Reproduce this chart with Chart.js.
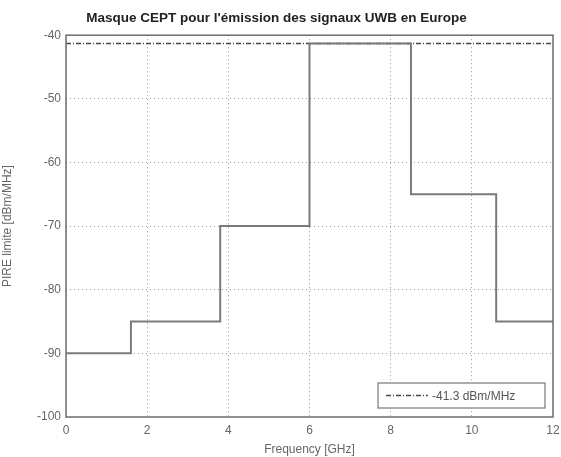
<!DOCTYPE html>
<html>
<head>
<meta charset="utf-8">
<script src="https://cdn.jsdelivr.net/npm/chart.js@4.4.1/dist/chart.umd.min.js"></script>
<style>
  html, body { margin: 0; padding: 0; background: #fff; }
  #wrap { width: 561px; height: 457px; }
</style>
</head>
<body>
<div id="wrap"><canvas id="myChart" width="561" height="457"></canvas></div>
<script>
// breakpoints of the CEPT mask (GHz) and the level that starts at each one
var freqs = [0, 1.6, 3.8, 6, 8.5, 10.6, 12];
var levels = [-90, -85, -70, -41.3, -65, -85, -85];
// reference level shown in the legend
var refLevel = -41.3;
var refLabel = '-41.3 dBm/MHz';
var xTicks = [0, 2, 4, 6, 8, 10, 12];
var yTicks = [-100, -90, -80, -70, -60, -50, -40];

window.onload = function () {
    // with stepped 'before' each segment keeps the level of its left point
    var maskPoints = freqs.map(function (f, i) { return { x: f, y: levels[i] }; });
    var refPoints = [{ x: xTicks[0], y: refLevel }, { x: xTicks[xTicks.length - 1], y: refLevel }];

    // box around the plot and the legend inside the axes (matlab look)
    var boxPlugin = {
        id: 'box',
        afterDraw: function (chart) {
            var ctx = chart.ctx;
            var a = chart.chartArea;
            ctx.save();
            ctx.strokeStyle = '#6e6e6e';
            ctx.lineWidth = 1.5;
            ctx.setLineDash([]);
            ctx.strokeRect(a.left, a.top, a.right - a.left, a.bottom - a.top);

            // legend
            var w = 167, h = 25;
            var bx = a.right - 8 - w, by = a.bottom - 9 - h;
            ctx.fillStyle = '#fff';
            ctx.fillRect(bx, by, w, h);
            ctx.strokeStyle = '#777';
            ctx.lineWidth = 1.2;
            ctx.strokeRect(bx, by, w, h);
            ctx.strokeStyle = '#444';
            ctx.lineWidth = 1.5;
            ctx.setLineDash([5, 2, 1, 2]);
            ctx.beginPath();
            ctx.moveTo(bx + 8, by + h / 2);
            ctx.lineTo(bx + 50, by + h / 2);
            ctx.stroke();
            ctx.setLineDash([]);
            ctx.fillStyle = '#555';
            ctx.font = '12px "Liberation Sans", Arial, sans-serif';
            ctx.textBaseline = 'middle';
            ctx.fillText(refLabel, bx + 54, by + h / 2 + 1);
            ctx.restore();
        }
    };

    var ctx = document.getElementById('myChart').getContext('2d');
    var myChart = new Chart(ctx, {
        type: 'line',
        data: {
            datasets: [{
                label: 'Masque CEPT',
                data: maskPoints,
                stepped: 'before',
                borderColor: '#7a7a7a',
                borderWidth: 2,
                pointRadius: 0,
                fill: false
            },
            {
                label: refLabel,
                data: refPoints,
                borderColor: '#444',
                borderWidth: 1.5,
                borderDash: [5, 2, 1, 2],
                pointRadius: 0,
                fill: false
            }]
        },
        plugins: [boxPlugin],
        options: {
            responsive: false,
            animation: false,
            layout: { padding: { left: 0, right: 8, top: 0, bottom: 0 } },
            plugins: {
                legend: { display: false },
                tooltip: { enabled: false },
                title: {
                    display: true,
                    text: "Masque CEPT pour l'émission des signaux UWB en Europe",
                    color: '#222',
                    font: { family: '"Liberation Sans", Arial, sans-serif', size: 13.5, weight: 'bold' },
                    padding: { top: 10, bottom: 9 }
                }
            },
            scales: {
                x: {
                    type: 'linear',
                    min: 0,
                    max: 12,
                    afterFit: function (s) { s.height = 40; s.paddingLeft = 0; s.paddingRight = 0; },
                    afterBuildTicks: function (s) { s.ticks = xTicks.map(function (v) { return { value: v }; }); },
                    grid: {
                        color: '#999',
                        lineWidth: 1,
                        drawTicks: false
                    },
                    border: { display: false, dash: [1, 3] },
                    ticks: {
                        color: '#666',
                        padding: 6,
                        maxRotation: 0,
                        font: { family: '"Liberation Sans", Arial, sans-serif', size: 12 }
                    },
                    title: {
                        display: true,
                        text: 'Frequency [GHz]',
                        color: '#666',
                        padding: { top: 0, bottom: 0 },
                        font: { family: '"Liberation Sans", Arial, sans-serif', size: 12 }
                    }
                },
                y: {
                    min: -100,
                    max: -40,
                    afterFit: function (s) { s.width = 66; s.paddingTop = 0; s.paddingBottom = 0; },
                    afterBuildTicks: function (s) { s.ticks = yTicks.map(function (v) { return { value: v }; }); },
                    grid: {
                        color: '#999',
                        lineWidth: 1,
                        drawTicks: false
                    },
                    border: { display: false, dash: [1, 3] },
                    ticks: {
                        color: '#666',
                        padding: 5,
                        font: { family: '"Liberation Sans", Arial, sans-serif', size: 12 }
                    },
                    title: {
                        display: true,
                        text: 'PIRE limite [dBm/MHz]',
                        color: '#666',
                        padding: { top: 0, bottom: 4 },
                        font: { family: '"Liberation Sans", Arial, sans-serif', size: 12 }
                    }
                }
            }
        }
    });
};
</script>
</body>
</html>
